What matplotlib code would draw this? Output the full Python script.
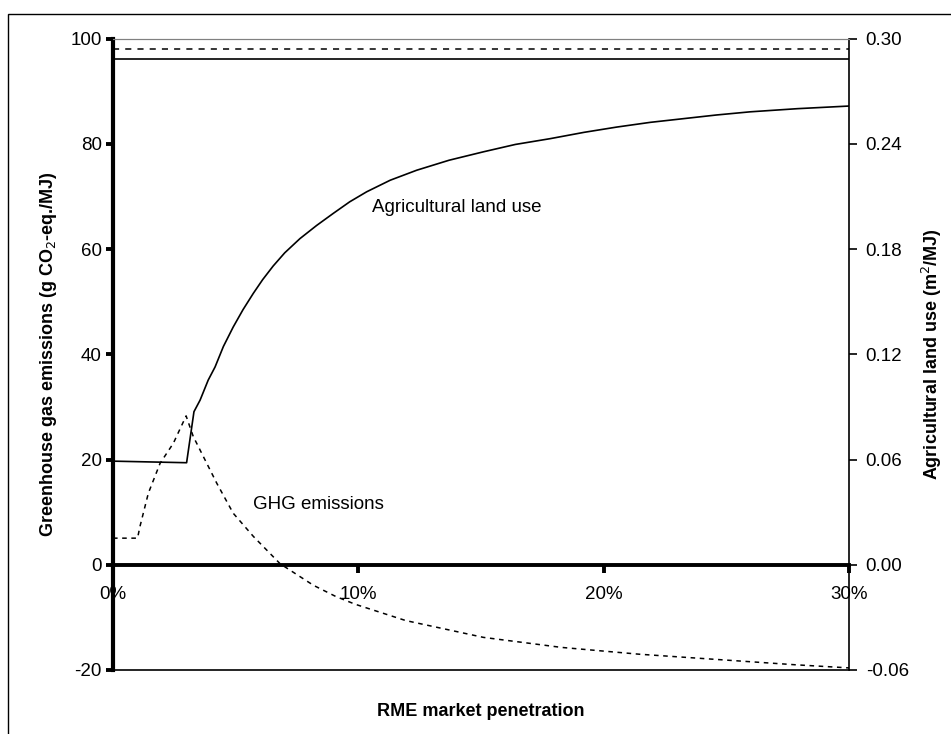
import matplotlib.pyplot as plt
from matplotlib.patches import Rectangle
from matplotlib.ticker import FuncFormatter

plt.rcParams['font.family'] = ['Liberation Sans', 'DejaVu Sans']
plt.rcParams['axes.unicode_minus'] = False

# RME market penetration (%) and agricultural land use (plotted on GHG scale, g CO2-eq./MJ units)
land_x = [0, 3.0, 3.3, 3.55, 3.88, 4.16, 4.5, 4.9, 5.3, 5.72, 6.1, 6.53, 7.0, 7.62,
          8.3, 8.98, 9.65, 10.34, 11.3, 12.38, 13.7, 15.1, 16.4, 17.82, 19.2,
          20.53, 21.9, 23.25, 24.6, 25.97, 27.9, 30.0]
land_y = [19.7, 19.4, 29.1, 31.3, 35.1, 37.6, 41.5, 45.2, 48.5, 51.6, 54.2, 56.8,
          59.3, 62.0, 64.5, 66.8, 69.0, 70.9, 73.1, 75.0, 76.9, 78.5, 79.9, 81.0,
          82.2, 83.2, 84.1, 84.8, 85.5, 86.1, 86.7, 87.2]

# GHG emissions
ghg_x = [0, 1.0, 1.1, 1.44, 1.92, 2.46, 2.98, 3.27, 3.68, 4.23, 4.9, 5.72, 6.81,
         8.17, 9.07, 9.87, 11.93, 15.1, 18.27, 21.45, 24.62, 27.79, 30.0]
ghg_y = [5.06, 5.06, 7.3, 13.6, 19.3, 23.1, 28.3, 24.4, 20.6, 15.5, 9.8, 5.4, 0.2,
         -3.9, -6.0, -7.5, -10.6, -13.8, -15.7, -17.0, -18.0, -19.0, -19.6]

# reference levels drawn across the top
ref_ghg = 98.0
ref_land = 96.2

fig = plt.figure(figsize=(9.51, 7.34), dpi=100)
fig.patches.append(Rectangle((8 / 951, -0.05), 1.2, 1 - 14 / 734 + 0.05,
                             transform=fig.transFigure, fill=False,
                             edgecolor='black', lw=1))

ax = fig.add_axes([113 / 951, 1 - 670 / 734, (849 - 113) / 951, (670 - 38.7) / 734])
ax2 = ax.twinx()

ax.plot(land_x, land_y, color='black', lw=1.2)
ax.plot(ghg_x, ghg_y, color='black', lw=1.1, linestyle=(0, (3, 3)))
ax.axhline(ref_ghg, color='black', lw=1.1, linestyle=(0, (4, 4)))
ax.axhline(ref_land, color='black', lw=1.2)
ax.axhline(-20, color='black', lw=1.2, clip_on=False)

ax.set_xlim(0, 30)
ax.set_ylim(-20, 100)
ax.set_yticks(range(-20, 101, 20))
ax.set_xticks([0, 10, 20, 30])
ax.xaxis.set_major_formatter(FuncFormatter(lambda v, p: f'{v:.0f}%'))

ax.spines['bottom'].set_position(('data', 0))
ax.spines['bottom'].set_linewidth(2.8)
ax.spines['left'].set_linewidth(3)
ax.spines['top'].set_color('#808080')
ax.spines['right'].set_visible(False)
ax.tick_params(axis='y', direction='out', length=5, width=2.8, labelsize=13.5, pad=3)
ax.tick_params(axis='x', direction='out', length=6, width=2.8, labelsize=13.5, pad=9)
ax.set_zorder(ax2.get_zorder() + 1)
ax.patch.set_visible(False)

ax2.set_ylim(-0.06, 0.30)
ax2.set_yticks([-0.06, 0.0, 0.06, 0.12, 0.18, 0.24, 0.30])
ax2.yaxis.set_major_formatter(FuncFormatter(lambda v, p: f'{v:.2f}'))
for s in ['left', 'bottom']:
    ax2.spines[s].set_visible(False)
ax2.spines['top'].set_color('#808080')
ax2.spines['right'].set_linewidth(1.2)
ax2.tick_params(axis='y', direction='out', length=6, width=1.2, labelsize=13.5, pad=6)

ax.text(10.55, 68.0, 'Agricultural land use', fontsize=13.5, va='center', ha='left')
ax.text(5.72, 11.4, 'GHG emissions', fontsize=13.5, va='center', ha='left')

ax.set_ylabel('Greenhouse gas emissions (g CO$_2$-eq./MJ)', fontsize=13,
              fontweight='bold', labelpad=8)
ax2.set_ylabel('Agricultural land use (m$^2$/MJ)', fontsize=13,
               fontweight='bold', labelpad=8)
fig.text(481 / 951, 1 - 712 / 734, 'RME market penetration', fontsize=13,
         fontweight='bold', ha='center', va='center')

fig.savefig('out.png', dpi=100)
